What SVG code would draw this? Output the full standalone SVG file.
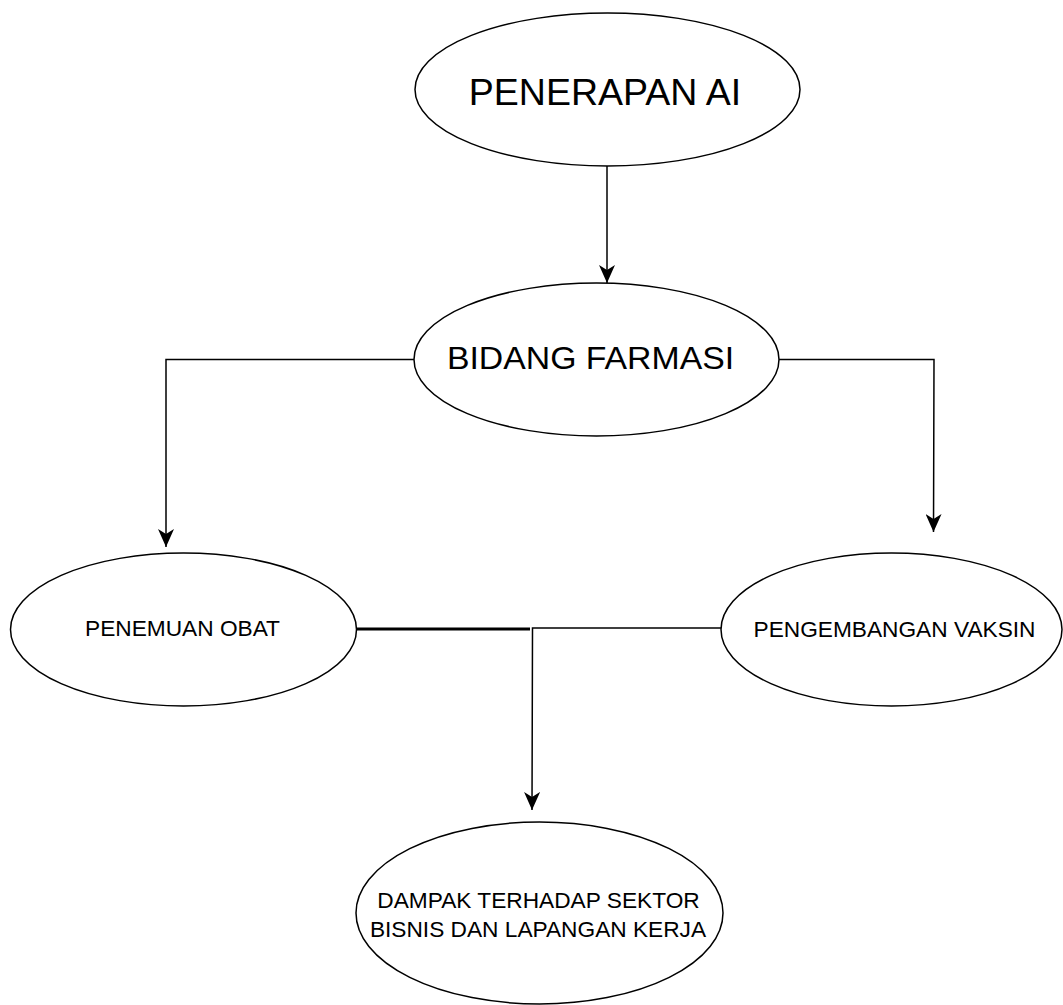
<svg xmlns="http://www.w3.org/2000/svg" width="1063" height="1005" viewBox="0 0 1063 1005">
  <style>
    .node { fill: #ffffff; stroke: #000000; stroke-width: 1.5; }
    .lbl { font-family: "Liberation Sans", Arial, Helvetica, sans-serif; fill: #000000; text-anchor: middle; }
    .small { font-size: 22.7px; }
    .conn { fill: none; stroke: #000000; stroke-width: 1.5; }
    .thick { fill: none; stroke: #000000; stroke-width: 3; }
  </style>
  <defs>
    <marker id="arrow" viewBox="0 0 18 16" refX="18" refY="8" markerWidth="18" markerHeight="16" markerUnits="userSpaceOnUse" orient="auto">
      <path d="M0,0 L18,8 L0,16 L5,8 Z" fill="#000000"/>
    </marker>
  </defs>
  <rect x="0" y="0" width="1063" height="1005" fill="#ffffff"/>

  <g id="connectors">
    <path class="conn" d="M607,166 L607,283" marker-end="url(#arrow)"/>
    <path class="conn" d="M414,359.5 L166,359.5 L166,547" marker-end="url(#arrow)"/>
    <path class="conn" d="M779,359.5 L934,359.5 L933.5,532" marker-end="url(#arrow)"/>
    <path class="thick" d="M357,629 L530,629"/>
    <path class="conn" d="M721,628 L532.5,628 L532,810" marker-end="url(#arrow)"/>
  </g>

  <g id="node-penerapan-ai">
    <ellipse class="node" cx="607.5" cy="89.5" rx="192.5" ry="76.5"/>
    <text class="lbl" x="605" y="105" font-size="37.5">PENERAPAN AI</text>
  </g>

  <g id="node-bidang-farmasi">
    <ellipse class="node" cx="596.5" cy="359.5" rx="182.5" ry="76.5"/>
    <text class="lbl" transform="translate(590.5,369) scale(1,0.9)" x="0" y="0" font-size="33.8">BIDANG FARMASI</text>
  </g>

  <g id="node-penemuan-obat">
    <ellipse class="node" cx="183.5" cy="629.5" rx="173" ry="76.5"/>
    <text class="lbl small" x="182.5" y="636">PENEMUAN OBAT</text>
  </g>

  <g id="node-pengembangan-vaksin">
    <ellipse class="node" cx="891.5" cy="629.5" rx="170.5" ry="76.5"/>
    <text class="lbl small" x="894.5" y="637">PENGEMBANGAN VAKSIN</text>
  </g>

  <g id="node-dampak">
    <ellipse class="node" cx="539.5" cy="913" rx="183.5" ry="91"/>
    <text class="lbl small" x="538.5" y="908">DAMPAK TERHADAP SEKTOR</text>
    <text class="lbl small" x="538" y="937">BISNIS DAN LAPANGAN KERJA</text>
  </g>
</svg>
